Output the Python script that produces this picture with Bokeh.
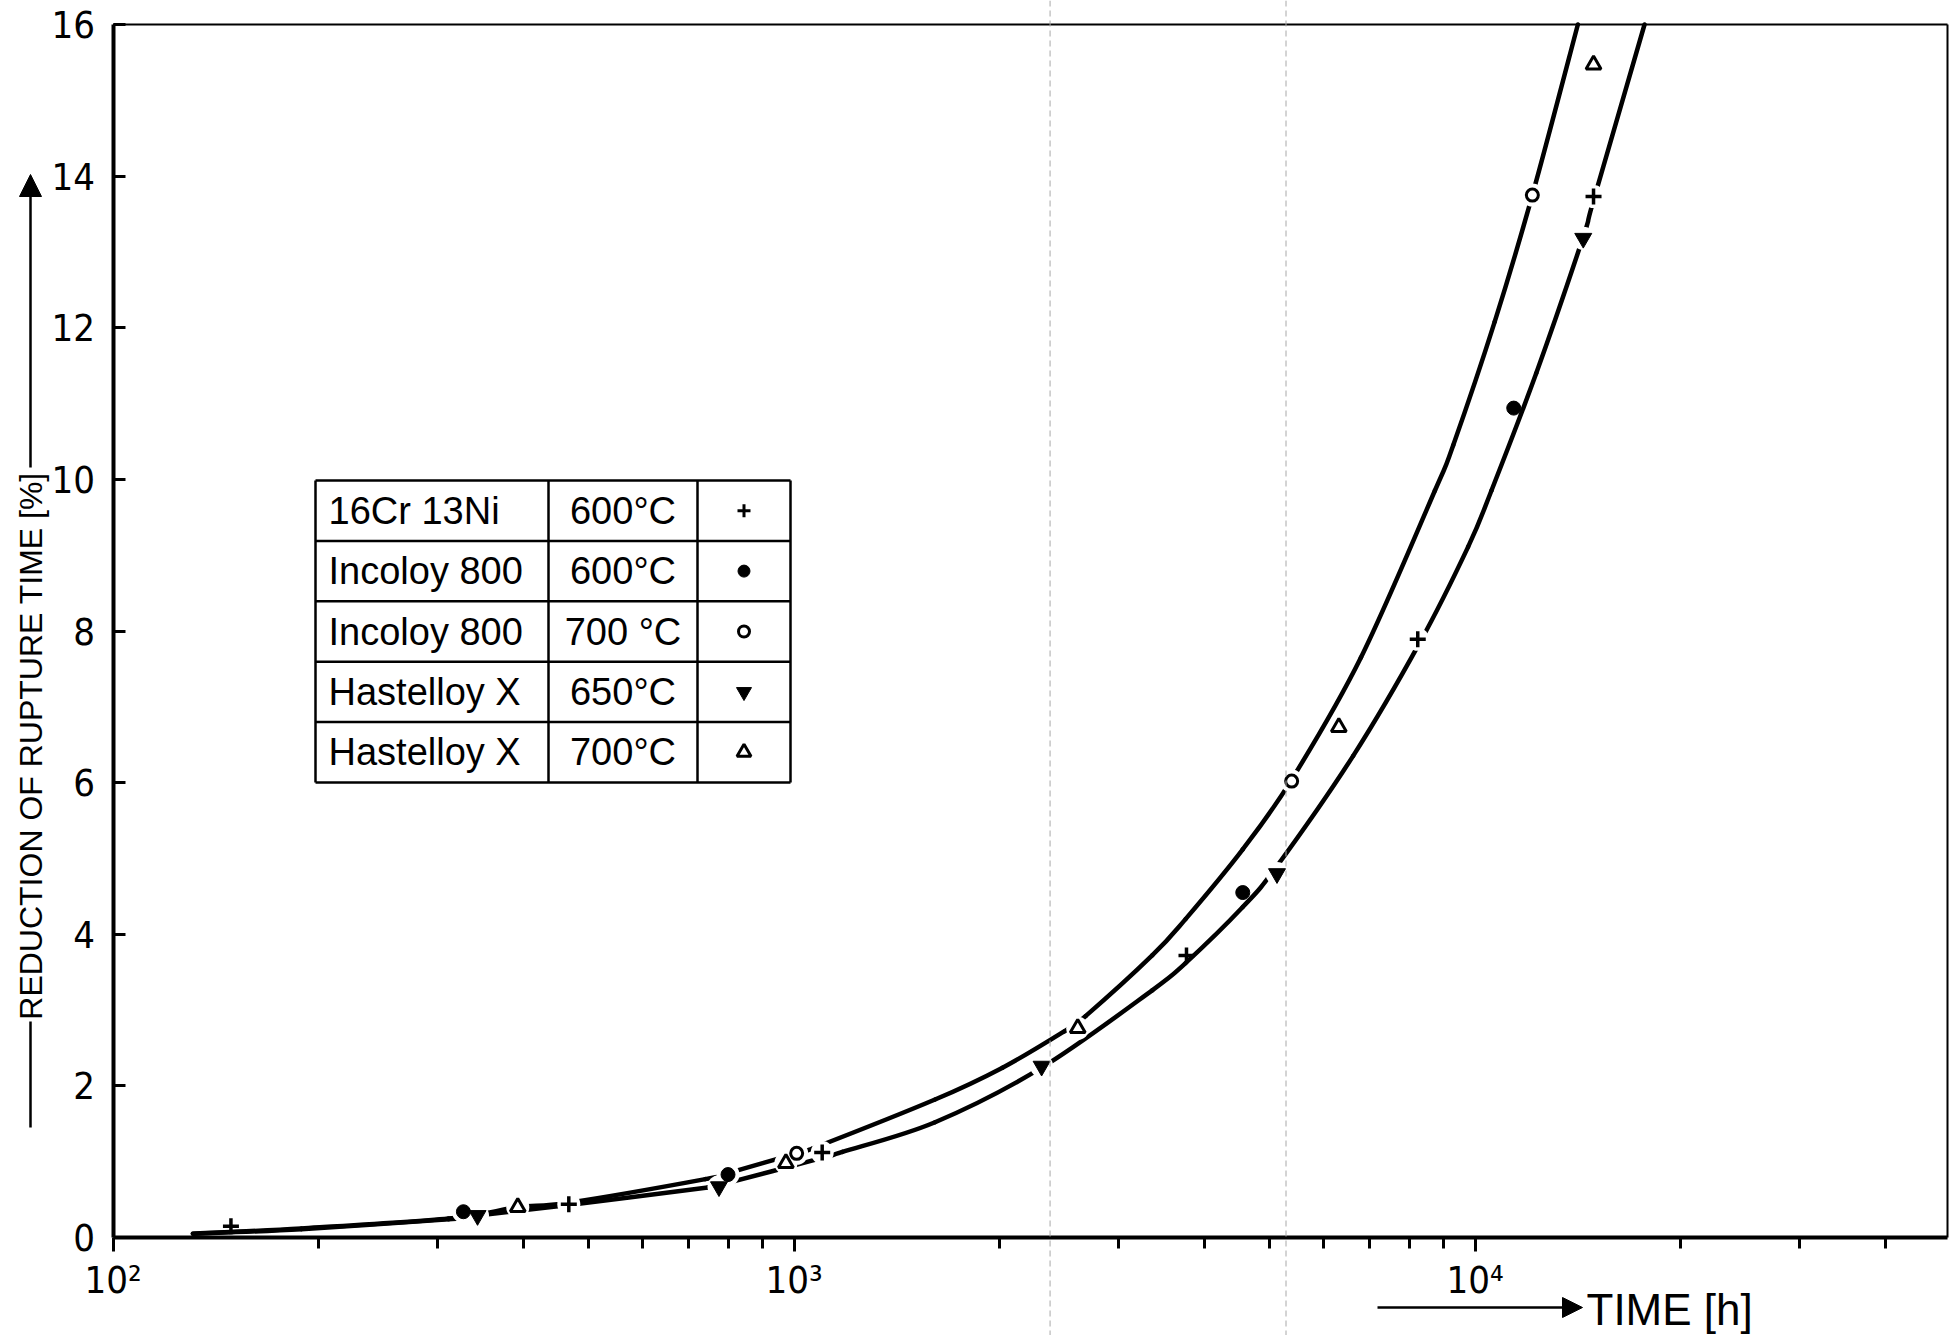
import math
from bokeh.plotting import figure
from bokeh.models import FixedTicker, Span, Label, Arrow, NormalHead, Range1d
from bokeh.embed import file_html
from bokeh.resources import INLINE
from bokeh.core.properties import value

# ---------------- data ----------------
cr_t = [149, 467, 1100, 3770, 8240, 14930]            # 16Cr 13Ni 600 C  (+)
cr_y = [0.15, 0.44, 1.12, 3.72, 7.89, 13.73]
cr_gap = [False, True, True, False, True, True]

inc600_t = [327, 800, 4560, 11400]                    # Incoloy 800 600 C (filled circle)
inc600_y = [0.34, 0.83, 4.55, 10.94]
inc600_gap = [True, True, False, False]

inc700_t = [1009, 5380, 12140]                        # Incoloy 800 700 C (open circle)
inc700_y = [1.11, 6.02, 13.75]
inc700_gap = [True, True, True]

hx650_t = [343, 776, 2310, 5120, 14420]               # Hastelloy X 650 C (filled inverted triangle)
hx650_y = [0.29, 0.67, 2.26, 4.80, 13.18]
hx650_gap = [True, True, True, True, True]

hx700_t = [393, 973, 2610, 6310, 14930]               # Hastelloy X 700 C (open triangle)
hx700_y = [0.40, 0.98, 2.76, 6.73, 15.47]
hx700_gap = [True, True, True, False, False]

# the two hand-drawn curves (points read along them)
upper_t = [131, 189, 311, 393, 467, 741, 800, 1009, 1062, 1611, 2024, 2494, 2680,
           3357, 3758, 4560, 5380, 6800, 8730, 9290, 10690, 12140, 14160]
upper_y = [0.05, 0.12, 0.25, 0.40, 0.46, 0.77, 0.85, 1.11, 1.17, 1.82, 2.24, 2.72, 2.92,
           3.72, 4.20, 5.12, 6.04, 7.65, 9.85, 10.45, 12.08, 13.75, 16.0]

lower_t = [131, 189, 311, 343, 467, 747, 776, 1100, 1178, 1611, 2310, 3357, 3758,
           4560, 5120, 6620, 8300, 9770, 10570, 12300, 14420, 14930, 17740]
lower_y = [0.05, 0.11, 0.24, 0.29, 0.43, 0.66, 0.69, 1.05, 1.13, 1.52, 2.24, 3.26, 3.62,
           4.36, 4.90, 6.35, 7.85, 9.11, 9.85, 11.40, 13.20, 13.68, 16.0]

scan_lines_t = [2377, 5278]

x_major = [100, 1000, 10000]
x_major_labels = ["10²", "10³", "10⁴"]
x_minor = [200, 300, 400, 500, 600, 700, 800, 900,
           2000, 3000, 4000, 5000, 6000, 7000, 8000, 9000,
           20000, 30000, 40000]
y_ticks = [0, 2, 4, 6, 8, 10, 12, 14, 16]

legend_material = ["16Cr 13Ni", "Incoloy 800", "Incoloy 800", "Hastelloy X", "Hastelloy X"]
legend_temp = ["600°C", "600°C", "700 °C", "650°C", "700°C"]

y_title = "REDUCTION OF RUPTURE  TIME [%]"
x_title = "TIME [h]"

# ---------------- layout (the frame covers the whole canvas; axes sit at fixed places) ----------------
W, H = 1950, 1335
X0_PX = 112.5          # pixel of t = 100
DEC = 681.0            # pixels per decade
Y0_PX = 1237.0         # pixel of y = 0
YTOP_PX = 24.0         # pixel of y = 16
RIGHT_PX = 1947.0      # right border of the chart box
UNIT = (Y0_PX - YTOP_PX) / 16.0


def xd(px):
    return 10 ** (2 + (px - X0_PX) / DEC)


def yd(py):
    return (Y0_PX - py) / UNIT


X_END = xd(RIGHT_PX)

TICK_FONT = "'DejaVu Sans Condensed', 'Liberation Sans Narrow', 'Liberation Sans'"
TEXT_FONT = "'Liberation Sans', Arial, sans-serif"

p = figure(width=W, height=H, x_axis_type="log",
           x_range=Range1d(xd(0), xd(W)), y_range=Range1d(yd(H), yd(0)),
           output_backend="svg", toolbar_location=None,
           min_border_left=0, min_border_right=0, min_border_top=0, min_border_bottom=0)
p.background_fill_color = "white"
p.border_fill_color = "white"
p.xgrid.visible = False
p.ygrid.visible = False
p.outline_line_color = None

# x axis
p.xaxis.fixed_location = 0
p.xaxis.bounds = (100, X_END)
p.xaxis.ticker = FixedTicker(ticks=x_major, minor_ticks=x_minor)
p.xaxis.major_label_overrides = {t: l for t, l in zip(x_major, x_major_labels)}
p.xaxis.axis_line_width = 4
p.xaxis.major_tick_in = 0
p.xaxis.major_tick_out = 14
p.xaxis.minor_tick_in = 0
p.xaxis.minor_tick_out = 11
p.xaxis.major_tick_line_width = 3
p.xaxis.minor_tick_line_width = 3
p.xaxis.major_label_text_font = TICK_FONT
p.xaxis.major_label_text_font_size = "38px"
p.xaxis.major_label_standoff = 6
p.xaxis.major_label_text_color = "black"

# y axis
p.yaxis.fixed_location = 100
p.yaxis.bounds = (0, 16)
p.yaxis.ticker = FixedTicker(ticks=y_ticks, minor_ticks=[])
p.yaxis.axis_line_width = 4
p.yaxis.major_tick_in = 12
p.yaxis.major_tick_out = 0
p.yaxis.minor_tick_in = 0
p.yaxis.minor_tick_out = 0
p.yaxis.major_tick_line_width = 3
p.yaxis.major_label_text_font = TICK_FONT
p.yaxis.major_label_text_font_size = "38px"
p.yaxis.major_label_standoff = 18
p.yaxis.major_label_text_color = "black"

# top and right border of the chart box
p.line([100, X_END], [16, 16], line_color="black", line_width=2)
p.line([X_END, X_END], [0, 16], line_color="black", line_width=2)

# faint vertical scan lines
for t in scan_lines_t:
    p.add_layout(Span(location=t, dimension="height", line_color="#a8a8a8",
                      line_width=1, line_dash="6 4"))


# curves: drawn as a smooth (Catmull-Rom style) path through the read points
def draw_curve(ts, ys):
    u = [math.log10(t) * DEC for t in ts]
    v = [y * UNIT for y in ys]
    n = len(u)
    x0, y0, x1, y1, cx0, cy0, cx1, cy1 = [], [], [], [], [], [], [], []
    for i in range(n - 1):
        pu, pv = (u[i - 1], v[i - 1]) if i > 0 else (u[i], v[i])
        nu, nv = (u[i + 2], v[i + 2]) if i + 2 < n else (u[i + 1], v[i + 1])
        a_u = u[i] + (u[i + 1] - pu) / 6.0
        a_v = v[i] + (v[i + 1] - pv) / 6.0
        b_u = u[i + 1] - (nu - u[i]) / 6.0
        b_v = v[i + 1] - (nv - v[i]) / 6.0
        x0.append(ts[i]); y0.append(ys[i])
        x1.append(ts[i + 1]); y1.append(ys[i + 1])
        cx0.append(10 ** (a_u / DEC)); cy0.append(a_v / UNIT)
        cx1.append(10 ** (b_u / DEC)); cy1.append(b_v / UNIT)
    p.bezier(x0=x0, y0=y0, x1=x1, y1=y1, cx0=cx0, cy0=cy0, cx1=cx1, cy1=cy1,
             line_width=4.5, line_color="black", line_cap="round")


draw_curve(upper_t, upper_y)
draw_curve(lower_t, lower_y)

# white halos that open the curves around the points
series = [(cr_t, cr_y, cr_gap), (inc600_t, inc600_y, inc600_gap), (inc700_t, inc700_y, inc700_gap),
          (hx650_t, hx650_y, hx650_gap), (hx700_t, hx700_y, hx700_gap)]
hx, hy = [], []
for ts, ys, gs in series:
    for t, y, g in zip(ts, ys, gs):
        if g:
            hx.append(t)
            hy.append(y)
p.scatter(hx, hy, marker="circle", size=23, fill_color="white", line_color=None)

# markers
p.scatter(cr_t, cr_y, marker="cross", size=16, line_width=3.5, line_color="black")
p.scatter(inc600_t, inc600_y, marker="circle", size=14, fill_color="black", line_color="black")
p.scatter(inc700_t, inc700_y, marker="circle", size=12, fill_color="white", line_color="black", line_width=3)
p.scatter(hx650_t, hx650_y, marker="inverted_triangle", size=17, fill_color="black", line_color="black")
p.scatter(hx700_t, hx700_y, marker="triangle", size=15, fill_color="white", line_color="black", line_width=3)

# ---------------- legend table ----------------
tl, tr, tt, tb = 315, 790, 480, 782
c1, c2 = 548, 697
rows = len(legend_material)
rh = (tb - tt) / rows
xs_l, ys_l = [], []
for k in range(rows + 1):
    yy = yd(tt + k * rh)
    xs_l.append([xd(tl), xd(tr)])
    ys_l.append([yy, yy])
for cx in (tl, c1, c2, tr):
    xs_l.append([xd(cx), xd(cx)])
    ys_l.append([yd(tt), yd(tb)])
p.multi_line(xs_l, ys_l, line_color="black", line_width=2.5)

row_y = [yd(tt + (k + 0.5) * rh) for k in range(rows)]
p.text([xd(328)] * rows, row_y, text=legend_material, text_font=value(TEXT_FONT),
       text_font_size=value("38px"), text_align="left", text_baseline="middle", text_color="black")
p.text([xd((c1 + c2) / 2)] * rows, row_y, text=legend_temp, text_font=value(TEXT_FONT),
       text_font_size=value("38px"), text_align="center", text_baseline="middle", text_color="black")
sx = xd((c2 + tr) / 2)
p.scatter([sx], [row_y[0]], marker="cross", size=13, line_width=3, line_color="black")
p.scatter([sx], [row_y[1]], marker="circle", size=12, fill_color="black", line_color="black")
p.scatter([sx], [row_y[2]], marker="circle", size=11, fill_color="white", line_color="black", line_width=3)
p.scatter([sx], [row_y[3]], marker="inverted_triangle", size=15, fill_color="black", line_color="black")
p.scatter([sx], [row_y[4]], marker="triangle", size=14, fill_color="white", line_color="black", line_width=3)

# ---------------- axis titles with arrows ----------------
p.add_layout(Label(x=xd(30), y=yd(741), text=y_title, angle=math.pi / 2,
                   text_align="center", text_baseline="middle",
                   text_font=TEXT_FONT, text_font_size="32px", text_color="black"))
p.add_layout(Arrow(x_start=xd(30), y_start=yd(1127), x_end=xd(30), y_end=yd(1021),
                   start=None, end=None, line_width=2.5, line_color="black"))
p.add_layout(Arrow(x_start=xd(30), y_start=yd(467), x_end=xd(30), y_end=yd(174),
                   start=None, end=NormalHead(size=22, fill_color="black", line_color="black"),
                   line_width=2.5, line_color="black"))

p.add_layout(Arrow(x_start=xd(1377), y_start=yd(1307), x_end=xd(1582), y_end=yd(1307),
                   start=None, end=NormalHead(size=20, fill_color="black", line_color="black"),
                   line_width=2.5, line_color="black"))
p.add_layout(Label(x=xd(1586), y=yd(1309), text=x_title,
                   text_align="left", text_baseline="middle",
                   text_font=TEXT_FONT, text_font_size="44px", text_color="black"))

open("out.html", "w").write(file_html(p, INLINE))
